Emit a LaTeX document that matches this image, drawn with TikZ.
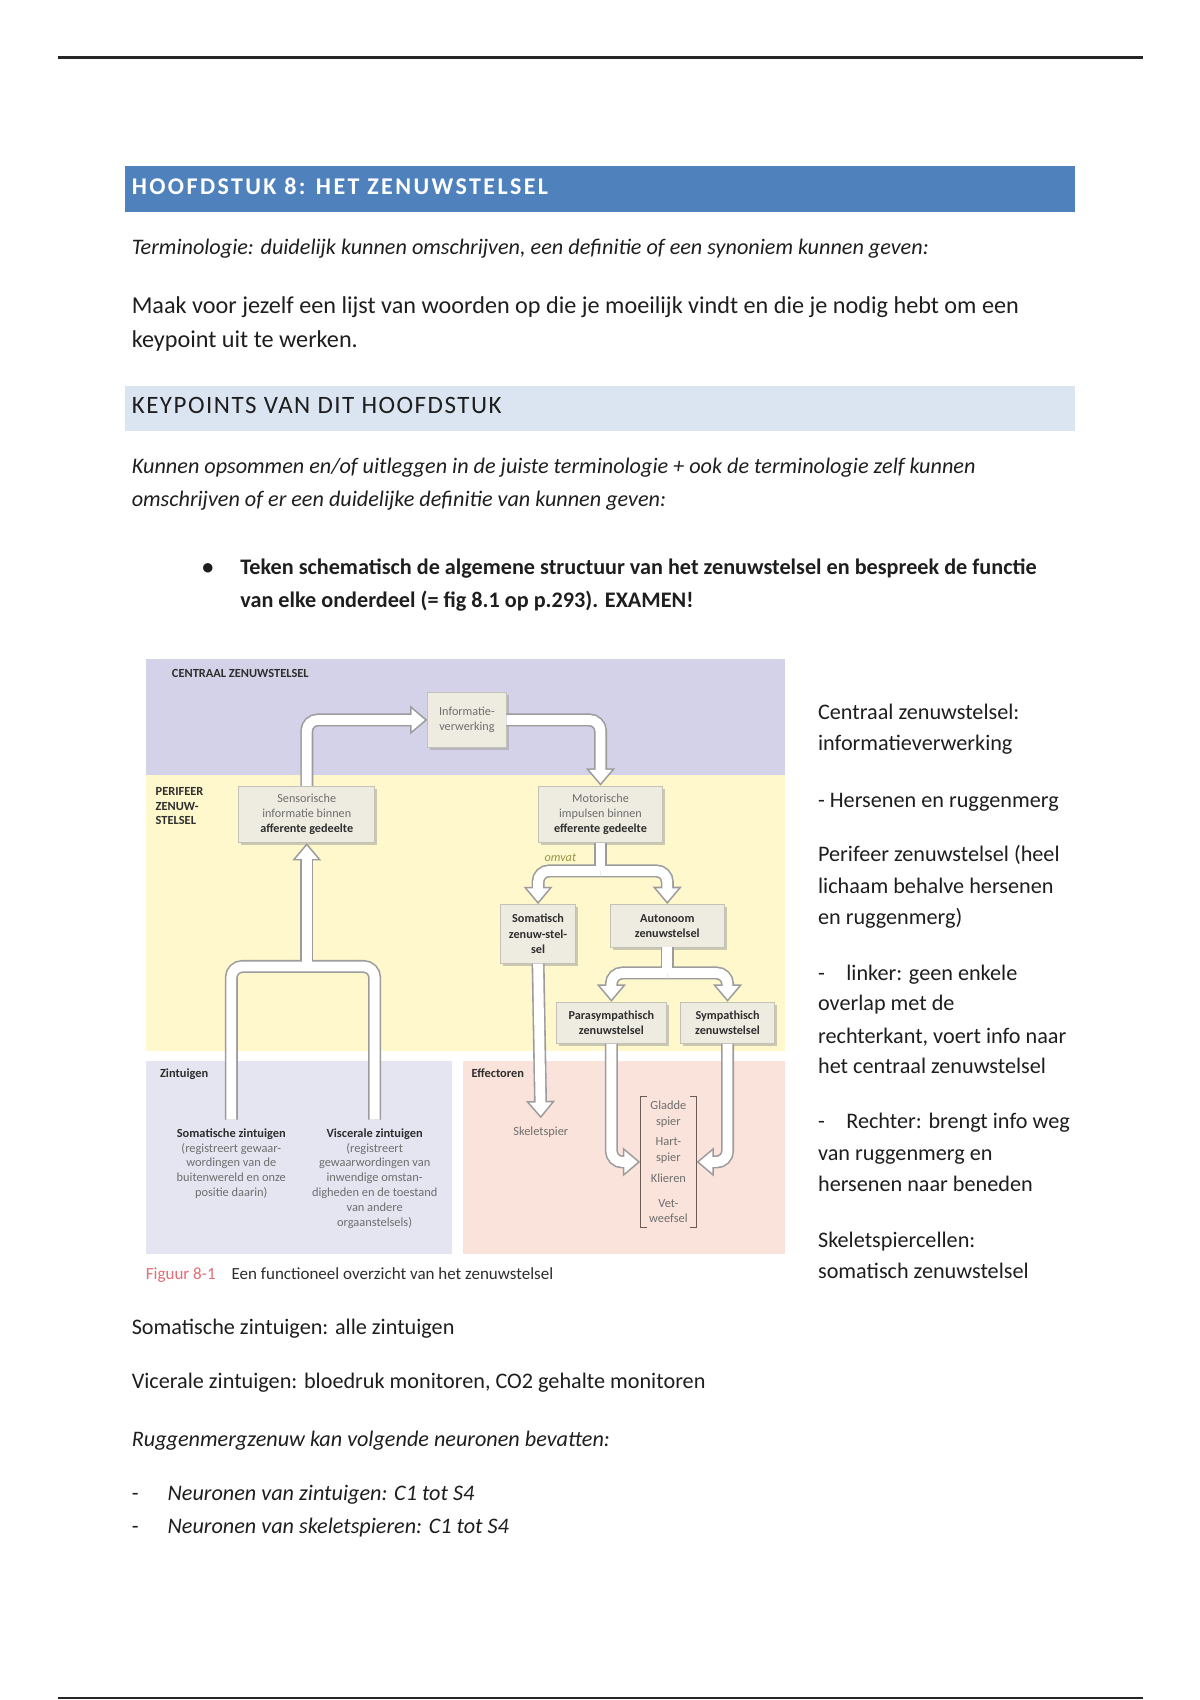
\documentclass[tikz,border=0pt]{standalone}
\usepackage{fontspec}
\setmainfont{Carlito}
\newfontfamily\hdfont[LetterSpace=10]{Carlito}
\newfontfamily\kpfont[LetterSpace=6]{Carlito}
\usetikzlibrary{arrows.meta,shadows}
\definecolor{hblue}{HTML}{4F81BD}
\definecolor{kblue}{HTML}{DBE5F1}
\definecolor{cnsc}{HTML}{D4D2E8}
\definecolor{pnsc}{HTML}{FEF8CC}
\definecolor{zinc}{HTML}{E5E5F1}
\definecolor{effc}{HTML}{FAE3DA}
\definecolor{boxf}{HTML}{EEEBE1}
\definecolor{boxd}{HTML}{C4C1B6}
\definecolor{ftxt}{HTML}{6E6E6E}
\definecolor{fdark}{HTML}{2E2E2E}
\definecolor{arrg}{HTML}{9C9C9C}
\definecolor{omvc}{HTML}{9C9445}
\definecolor{capred}{HTML}{E36C75}
\definecolor{bodyc}{HTML}{1E1E1E}
\definecolor{brk}{HTML}{6B5A55}
\tikzset{
 body/.style={anchor=base west, inner sep=0pt, text=bodyc, font=\fontsize{11.1}{13}\selectfont},
 bodyit/.style={body, font=\fontsize{11.1}{13}\selectfont\itshape},
 bodybf/.style={body, font=\fontsize{11.1}{13}\selectfont\bfseries},
 side/.style={body},
 figlab/.style={anchor=base west, inner sep=0pt, text=fdark, font=\fontsize{6.2}{7.4}\selectfont\bfseries},
 figtxt/.style={inner sep=0pt, align=center, text=ftxt, font=\fontsize{6.2}{7.4}\selectfont},
 fbox/.style={draw=boxd, fill=boxf, line width=0.45pt, inner sep=0pt, align=center, text=ftxt,
   font=\fontsize{6.1}{7.6}\selectfont,
   drop shadow={shadow xshift=1.3pt, shadow yshift=-1.3pt, fill=black!40, opacity=0.5}},
 aout/.style={draw=arrg, line width=6.5pt, rounded corners=5.5pt},
 ain/.style={draw=white, line width=4.9pt, rounded corners=5.5pt},
 tout/.style={-{Triangle[width=14pt,length=8.7pt]}},
 tin/.style={-{Triangle[width=10.66pt,length=6.62pt]}, shorten >=1.28pt},
}
\newcommand{\dk}[1]{\textcolor{fdark}{\bfseries #1}}
\begin{document}
\begin{tikzpicture}[x=0.543pt,y=-0.543pt]
\useasboundingbox (0,0) rectangle (1105,1565.5);
\fill[white] (0,0) rectangle (1105,1565.5);
% page rules
\draw[line width=1.2pt, black!85] (53,53) -- (1053,53);
\draw[line width=1.2pt, black!85] (53,1563.5) -- (1053,1563.5);
% header bars
\fill[hblue] (115,153) rectangle (990,195);
\node[anchor=base west, inner sep=0pt, text=white, font=\fontsize{12}{14}\hdfont\bfseries] (h1) at (121,179) {HOOFDSTUK 8: HET ZENUWSTELSEL};
\node[bodyit] (t1) at (121,234) {Terminologie: duidelijk kunnen omschrijven, een definitie of een synoniem kunnen geven:};
\node[body, font=\fontsize{12.1}{14}\selectfont] (t2) at (121,289) {Maak voor jezelf een lijst van woorden op die je moeilijk vindt en die je nodig hebt om een};
\node[body, font=\fontsize{12.1}{14}\selectfont] (t3) at (121,320) {keypoint uit te werken.};
\fill[kblue] (115,355) rectangle (990,397);
\node[anchor=base west, inner sep=0pt, text=bodyc, font=\fontsize{12.5}{14}\kpfont] (h2) at (121,381) {KEYPOINTS VAN DIT HOOFDSTUK};
\node[bodyit] (k1) at (121,436) {Kunnen opsommen en/of uitleggen in de juiste terminologie + ook de terminologie zelf kunnen};
\node[bodyit] (k2) at (121,466) {omschrijven of er een duidelijke definitie van kunnen geven:};
\node[bodybf] (bul) at (186,529) {•};
\node[bodybf] (b1) at (221,529) {Teken schematisch de algemene structuur van het zenuwstelsel en bespreek de functie};
\node[bodybf] (b2) at (221,559) {van elke onderdeel (= fig 8.1 op p.293). EXAMEN!};
% figure regions
\fill[cnsc] (134,607) rectangle (723,714);
\fill[pnsc] (134,714) rectangle (723,968);
\fill[zinc] (134,977) rectangle (416,1155);
\fill[effc] (426,977) rectangle (723,1155);
\node[figlab] (lcns) at (158,624) {CENTRAAL ZENUWSTELSEL};
\node[figlab] (lpns1) at (143,733) {PERIFEER};
\node[figlab] (lpns2) at (143,746) {ZENUW-};
\node[figlab] (lpns3) at (143,759) {STELSEL};
\node[figlab] (lzin) at (147,992) {Zintuigen};
\node[figlab] (leff) at (434,992) {Effectoren};
% boxes
\node[fbox, minimum width=39.1pt, minimum height=27.15pt] (info) at (430,663) {Informatie-\\verwerking};
\node[fbox, minimum width=67.9pt, minimum height=28.2pt] (sens) at (282.5,750) {Sensorische\\informatie binnen\\\dk{afferente gedeelte}};
\node[fbox, minimum width=61.9pt, minimum height=28.2pt] (mot) at (553,750) {Motorische\\impulsen binnen\\\dk{efferente gedeelte}};
\node[fbox, minimum width=37.5pt, minimum height=29.3pt] (soma) at (495.5,860) {\dk{Somatisch}\\\dk{zenuw-stel-}\\\dk{sel}};
\node[fbox, minimum width=57pt, minimum height=21.2pt] (auto) at (614.5,852.5) {\dk{Autonoom}\\\dk{zenuwstelsel}};
\node[fbox, minimum width=55.4pt, minimum height=20.6pt] (para) at (563,942) {\dk{Parasympathisch}\\\dk{zenuwstelsel}};
\node[fbox, minimum width=46.7pt, minimum height=20.6pt] (symp) at (670,942) {\dk{Sympathisch}\\\dk{zenuwstelsel}};
% receptors / effectors
\node[figtxt, anchor=north] (somz) at (213,1039) {\dk{Somatische zintuigen}\\(registreert gewaar-\\wordingen van de\\buitenwereld en onze\\positie daarin)};
\node[figtxt, anchor=north] (visz) at (345,1039) {\dk{Viscerale zintuigen}\\(registreert\\gewaarwordingen van\\inwendige omstan-\\digheden en de toestand\\van andere\\orgaanstelsels)};
\node[figtxt] (skel) at (498,1043) {Skeletspier};
\node[figtxt, font=\fontsize{6.2}{7.8}\selectfont, minimum width=27.7pt, minimum height=65.2pt] (eff) at (615.5,1070) {Gladde\\spier\\[2.5pt]Hart-\\spier\\[2.5pt]Klieren\\[4.7pt]Vet-\\weefsel};
\draw[brk, line width=0.65pt] ([xshift=3.3pt]eff.north west) -- (eff.north west) -- (eff.south west) -- ([xshift=3.3pt]eff.south west);
\draw[brk, line width=0.65pt] ([xshift=-3.3pt]eff.north east) -- (eff.north east) -- (eff.south east) -- ([xshift=-3.3pt]eff.south east);
\node[inner sep=0pt, text=omvc, font=\fontsize{6.1}{7}\selectfont\itshape] (omvat) at (516,790) {omvat};
\coordinate (fork) at (282.5,890);
\coordinate (mfork) at (553,802);
\coordinate (afork) at (614.5,896);
% arrows: outlines
\draw[aout, tout] (sens.north) |- (info.west);
\draw[aout, tout] (info.east) -| (mot.north);
\draw[aout] (mot.south) -- (mfork);
\draw[aout, tout] (mfork) -| (soma.north);
\draw[aout, tout] (mfork) -| (auto.north);
\draw[aout] (auto.south) -- (afork);
\draw[aout, tout] (afork) -| (para.north);
\draw[aout, tout] (afork) -| (symp.north);
\draw[aout, tout] (soma.south) -- ([yshift=4.3pt]skel.north);
\draw[aout, tout] (para.south) |- (eff.west);
\draw[aout, tout] (symp.south) |- (eff.east);
\draw[aout] ([yshift=4.3pt]somz.north) |- (fork) -| ([yshift=4.3pt]visz.north);
\draw[aout, tout] (fork) -- (sens.south);
% arrows: white interiors
\draw[ain, tin] (sens.north) |- (info.west);
\draw[ain, tin] (info.east) -| (mot.north);
\draw[ain] (mot.south) -- (mfork);
\draw[ain, tin] (mfork) -| (soma.north);
\draw[ain, tin] (mfork) -| (auto.north);
\draw[ain] (auto.south) -- (afork);
\draw[ain, tin] (afork) -| (para.north);
\draw[ain, tin] (afork) -| (symp.north);
\draw[ain, tin] (soma.south) -- ([yshift=4.3pt]skel.north);
\draw[ain, tin] (para.south) |- (eff.west);
\draw[ain, tin] (symp.south) |- (eff.east);
\draw[ain] ([yshift=4.3pt]somz.north) |- (fork) -| ([yshift=4.3pt]visz.north);
\draw[ain, tin] (fork) -- (sens.south);
% caption
\node[anchor=base west, inner sep=0pt, text=capred, font=\fontsize{8.5}{10}\selectfont] (capn) at (134,1178) {Figuur 8-1};
\node[anchor=base west, inner sep=0pt, text=fdark, font=\fontsize{8.5}{10}\selectfont] (capt) at (213,1178) {Een functioneel overzicht van het zenuwstelsel};
% side notes
\node[side] (r1) at (753,663) {Centraal zenuwstelsel:};
\node[side] (r2) at (753,691) {informatieverwerking};
\node[side] (r3) at (753,744) {- Hersenen en ruggenmerg};
\node[side] (r4) at (753,793) {Perifeer zenuwstelsel (heel};
\node[side] (r5) at (753,823) {lichaam behalve hersenen};
\node[side] (r6) at (753,851) {en ruggenmerg)};
\node[side] (r7d) at (753,903) {-};
\node[side] (r7) at (779,903) {linker: geen enkele};
\node[side] (r8) at (753,931) {overlap met de};
\node[side] (r9) at (753,961) {rechterkant, voert info naar};
\node[side] (r10) at (753,989) {het centraal zenuwstelsel};
\node[side] (r11d) at (753,1039) {-};
\node[side] (r11) at (779,1039) {Rechter: brengt info weg};
\node[side] (r12) at (753,1069) {van ruggenmerg en};
\node[side] (r13) at (753,1097) {hersenen naar beneden};
\node[side] (r14) at (753,1149) {Skeletspiercellen:};
\node[side] (r15) at (753,1177) {somatisch zenuwstelsel};
% bottom text
\node[body] (s1) at (121,1229) {Somatische zintuigen: alle zintuigen};
\node[body] (s2) at (121,1279) {Vicerale zintuigen: bloedruk monitoren, CO2 gehalte monitoren};
\node[bodyit] (s3) at (121,1332) {Ruggenmergzenuw kan volgende neuronen bevatten:};
\node[body] (d1) at (121,1382) {-};
\node[bodyit] (n1) at (154,1382) {Neuronen van zintuigen: C1 tot S4};
\node[body] (d2) at (121,1412) {-};
\node[bodyit] (n2) at (154,1412) {Neuronen van skeletspieren: C1 tot S4};
\end{tikzpicture}
\end{document}
